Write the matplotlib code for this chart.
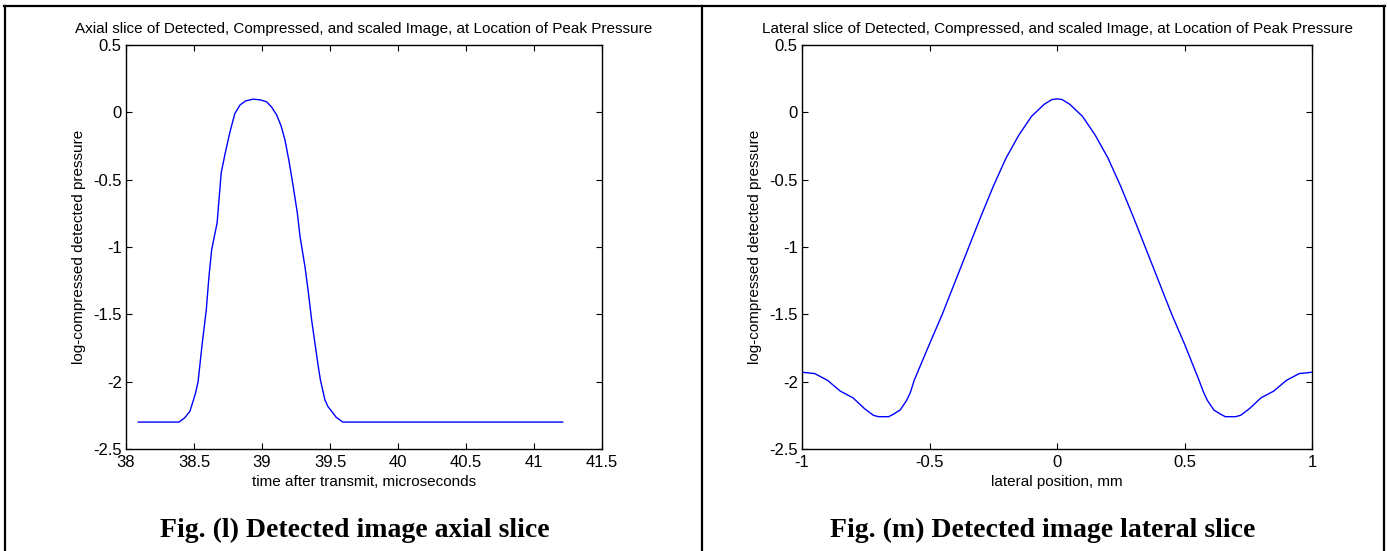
import numpy as np
import matplotlib
matplotlib.use('Agg')
import matplotlib.pyplot as plt
from matplotlib.lines import Line2D

# axial slice (left)
axial_t = [38.09, 38.2, 38.3, 38.39, 38.43, 38.47, 38.51, 38.53, 38.56, 38.59, 38.61,
           38.63, 38.67, 38.70, 38.73, 38.765, 38.80, 38.838, 38.88, 38.936, 38.99,
           39.034, 39.07, 39.108, 39.14, 39.169, 39.20, 39.23, 39.26, 39.28, 39.316,
           39.34, 39.365, 39.39, 39.414, 39.43, 39.463, 39.485, 39.52, 39.545, 39.594,
           39.8, 40.2, 40.6, 41.0, 41.21]
axial_val = [-2.3, -2.3, -2.3, -2.3, -2.27, -2.22, -2.09, -2.0, -1.72, -1.47, -1.22,
             -1.02, -0.82, -0.45, -0.3, -0.144, -0.01, 0.054, 0.085, 0.098, 0.092,
             0.078, 0.04, -0.02, -0.1, -0.206, -0.37, -0.553, -0.75, -0.924, -1.147,
             -1.33, -1.542, -1.72, -1.889, -1.99, -2.136, -2.185, -2.23, -2.264, -2.3,
             -2.3, -2.3, -2.3, -2.3, -2.3]

# lateral slice (right)
lat_x = [-1.0, -0.95, -0.9, -0.85, -0.8, -0.755, -0.72, -0.7, -0.66, -0.64, -0.615,
         -0.59, -0.575, -0.56, -0.5, -0.45, -0.4, -0.35, -0.3, -0.25, -0.2, -0.15,
         -0.1, -0.05, -0.02, 0.0, 0.02, 0.05, 0.1, 0.15, 0.2, 0.25, 0.3, 0.35, 0.4,
         0.45, 0.5, 0.557, 0.575, 0.59, 0.615, 0.64, 0.66, 0.7, 0.72, 0.755, 0.8,
         0.85, 0.9, 0.95, 1.0]
lat_val = [-1.93, -1.94, -1.99, -2.07, -2.12, -2.2, -2.25, -2.26, -2.26, -2.24, -2.21,
           -2.14, -2.08, -1.99, -1.72, -1.5, -1.26, -1.02, -0.78, -0.55, -0.34, -0.17,
           -0.03, 0.06, 0.095, 0.1, 0.095, 0.06, -0.03, -0.17, -0.34, -0.55, -0.78,
           -1.02, -1.26, -1.5, -1.72, -1.99, -2.08, -2.14, -2.21, -2.24, -2.26, -2.26,
           -2.25, -2.2, -2.12, -2.07, -1.99, -1.94, -1.93]

axial_ticks = [38, 38.5, 39, 39.5, 40, 40.5, 41, 41.5]
axial_ticklabels = ['38', '38.5', '39', '39.5', '40', '40.5', '41', '41.5']
lat_ticks = [-1, -0.5, 0, 0.5, 1]
lat_ticklabels = ['-1', '-0.5', '0', '0.5', '1']
y_ticks = [-2.5, -2, -1.5, -1, -0.5, 0, 0.5]
y_ticklabels = ['-2.5', '-2', '-1.5', '-1', '-0.5', '0', '0.5']

plt.rcParams['font.family'] = ['Liberation Sans', 'DejaVu Sans']
plt.rcParams['font.size'] = 10

W, H = 1387, 551
fig = plt.figure(figsize=(W / 100, H / 100), dpi=100)

ax1 = fig.add_axes([126 / W, 1 - 449 / H, 476 / W, 404 / H])
ax2 = fig.add_axes([802 / W, 1 - 449 / H, 510 / W, 404 / H])

ax1.plot(axial_t, axial_val, color='blue', lw=1.0)
ax2.plot(lat_x, lat_val, color='blue', lw=1.0)

ax1.set_xlim(38, 41.5)
ax1.set_xticks(axial_ticks)
ax1.set_xticklabels(axial_ticklabels)
ax2.set_xlim(-1, 1)
ax2.set_xticks(lat_ticks)
ax2.set_xticklabels(lat_ticklabels)

ax1.set_title('Axial slice of Detected, Compressed, and scaled Image, at Location of Peak Pressure',
              fontsize=11, pad=9)
ax2.set_title('Lateral slice of Detected, Compressed, and scaled Image, at Location of Peak Pressure',
              fontsize=11, pad=9)
ax1.set_xlabel('time after transmit, microseconds', fontsize=11, labelpad=4)
ax2.set_xlabel('lateral position, mm', fontsize=11, labelpad=4)

for ax in (ax1, ax2):
    ax.set_ylim(-2.5, 0.5)
    ax.set_yticks(y_ticks)
    ax.set_yticklabels(y_ticklabels)
    ax.set_ylabel('log-compressed detected pressure', fontsize=11, labelpad=5)
    ax.tick_params(direction='in', length=4, width=0.8, top=True, right=True,
                   labelsize=12, pad=4)
    ax.tick_params(axis='y', pad=3)
    for sp in ax.spines.values():
        sp.set_linewidth(1.0)

# captions
fig.text(355 / W, 1 - 530 / H, 'Fig. (l) Detected image axial slice',
         family=['Liberation Serif', 'DejaVu Serif'], fontweight='bold',
         fontsize=20, ha='center', va='center')
fig.text(1043 / W, 1 - 530 / H, 'Fig. (m) Detected image lateral slice',
         family=['Liberation Serif', 'DejaVu Serif'], fontweight='bold',
         fontsize=20, ha='center', va='center')

# table borders
def px_line(x0, y0, x1, y1):
    fig.add_artist(Line2D([x0 / W, x1 / W], [1 - y0 / H, 1 - y1 / H],
                          transform=fig.transFigure, color='black', lw=1.6))

px_line(4, 6, 1385, 6)
px_line(5, 6, 5, 551)
px_line(702, 6, 702, 551)
px_line(1384, 6, 1384, 551)

fig.savefig('out.png', dpi=100)
